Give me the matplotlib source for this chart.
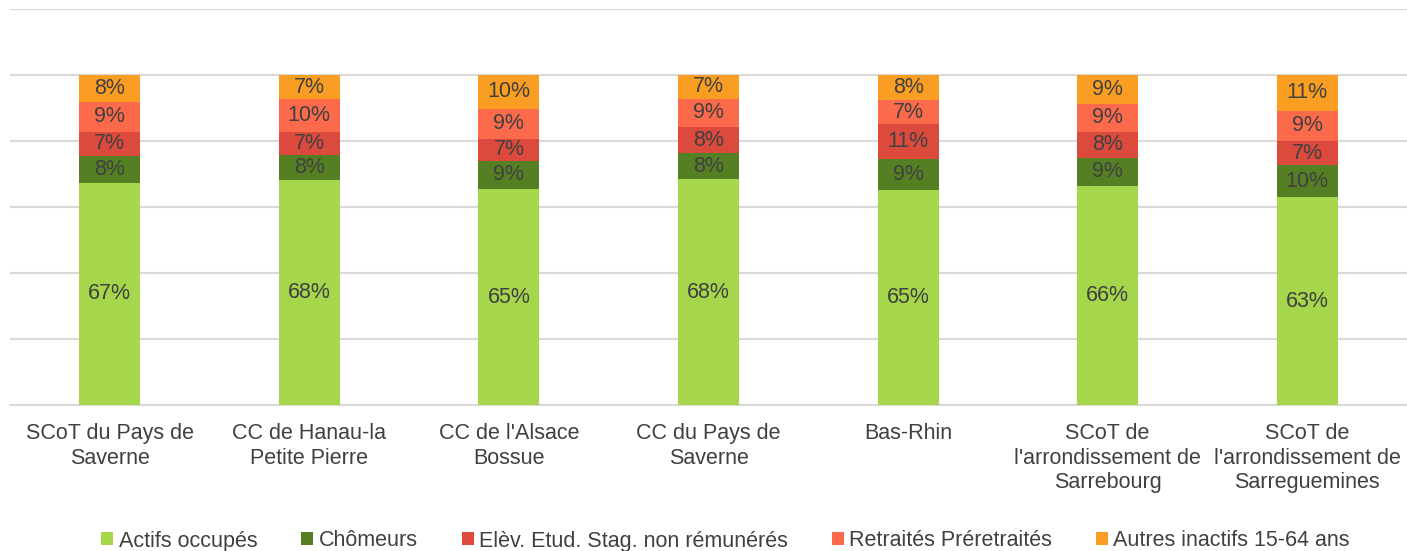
import matplotlib
matplotlib.use("Agg")
import matplotlib.pyplot as plt
import numpy as np

categories = ["SCoT du Pays de\nSaverne", "CC de Hanau-la\nPetite Pierre", "CC de l'Alsace\nBossue",
              "CC du Pays de\nSaverne", "Bas-Rhin", "SCoT de\nl'arrondissement de\nSarrebourg",
              "SCoT de\nl'arrondissement de\nSarreguemines"]
series_names = ["Actifs occupés", "Chômeurs", "Elèv. Etud. Stag. non rémunérés",
                "Retraités Préretraités", "Autres inactifs 15-64 ans"]
actifs = [67.3, 68.2, 65.4, 68.4, 65.2, 66.3, 63.0]
chomeurs = [8.2, 7.6, 8.6, 7.9, 9.3, 8.7, 9.7]
eleves = [7.3, 6.9, 6.7, 7.9, 10.6, 7.7, 7.3]
retraites = [9.1, 10.0, 9.1, 8.6, 7.3, 8.6, 9.1]
autres = [8.1, 7.3, 10.2, 7.2, 7.6, 8.7, 10.9]
colors = ["#a5d64c", "#548023", "#dc4a3d", "#fb6a4a", "#f99e22"]

plt.rcParams['font.family'] = ['Liberation Sans', 'DejaVu Sans']
fig = plt.figure(figsize=(14.07, 5.51), dpi=100)
ax = fig.add_axes([10/1407, 146/551, 1397/1407, 396/551])

x = np.arange(len(categories))
bottom = np.zeros(len(categories))
handles = []
for name, vals, col in zip(series_names, [actifs, chomeurs, eleves, retraites, autres], colors):
    vals = np.array(vals)
    b = ax.bar(x, vals, 0.305, bottom=bottom, color=col, label=name, zorder=3)
    handles.append(b)
    for xi, v, bt in zip(x, vals, bottom):
        ax.text(xi, bt + v/2, f"{v:.0f}%", ha='center', va='center', fontsize=15.5, color='#404040', zorder=4)
    bottom += vals

ax.set_xlim(-0.5, 6.5)
ax.set_ylim(0, 120)
ax.set_yticks(np.arange(0, 121, 20))
ax.yaxis.grid(True, color='#d9d9d9', linewidth=1.5, zorder=0)
ax.tick_params(axis='y', left=False, labelleft=False)
ax.tick_params(axis='x', length=0, pad=13)
ax.set_xticks(x)
ax.set_xticklabels(categories, fontsize=15.5, color='#404040', linespacing=1.22)
for s in ['top', 'right', 'left']:
    ax.spines[s].set_visible(False)
ax.spines['bottom'].set_color('#d9d9d9')
ax.spines['bottom'].set_linewidth(1.5)

leg = fig.legend(handles=handles, labels=series_names, loc='center', bbox_to_anchor=(0.5157, 10/551),
                 ncol=5, frameon=False, fontsize=15.5, handlelength=0.55, handleheight=0.55,
                 handletextpad=0.25, columnspacing=2.05, labelcolor='#404040')
fig.savefig("out.png", dpi=100)
